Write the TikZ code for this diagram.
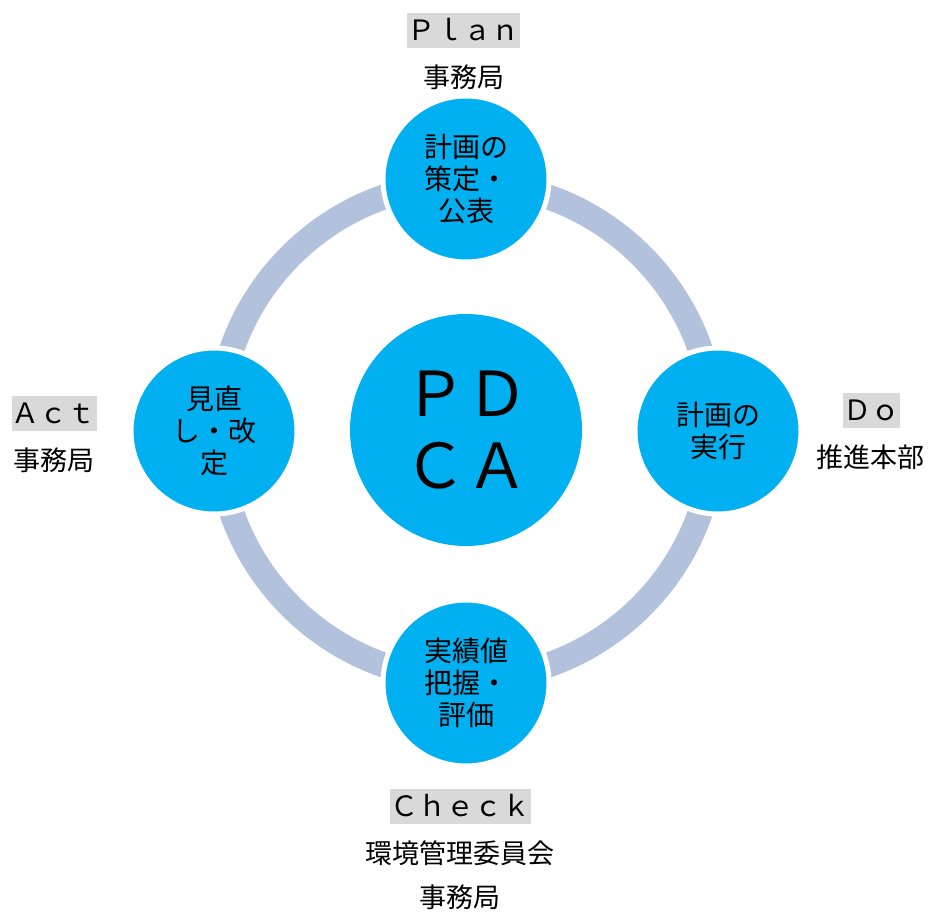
\documentclass[tikz,border=0pt]{standalone}
\usepackage{fontspec}
\newfontfamily\cjk{Noto Sans CJK JP}
\definecolor{cblue}{HTML}{00B0F0}
\definecolor{ringc}{HTML}{B3C2DC}
\definecolor{lblgray}{HTML}{D9D9D9}
\begin{document}
\begin{tikzpicture}[x=1pt,y=-1pt,
  small/.style={circle, fill=cblue, draw=white, line width=5pt, minimum size=166pt, inner sep=0pt, align=center, font=\cjk\fontsize{28}{32}\selectfont},
  tag/.style={fill=lblgray, inner xsep=0.5pt, inner ysep=0pt, minimum height=35pt, font=\cjk\fontsize{28}{34}\selectfont},
  who/.style={inner sep=0pt, align=center, font=\cjk\fontsize{27}{44}\selectfont}]
\useasboundingbox (0,0) rectangle (929,911);
\coordinate (c) at (466,431);
\draw[ringc, line width=25pt] (c) circle[radius=248];
\node[circle, fill=cblue, minimum size=232pt, inner sep=0pt, align=center, font=\cjk\fontsize{62}{72}\selectfont] (pdca) at (466,430) {ＰＤ\\ＣＡ};
\node[small] (plan) at (466,179) {計画の\\策定・\\公表};
\node[small] (do) at (718,431) {計画の\\実行};
\node[small] (check) at (466,683) {実績値\\把握・\\評価};
\node[small] (act) at (214,431) {見直\\し・改\\定};
\node[tag] (tplan) at (463.5,30) {Ｐｌａｎ};
\node[who] (wplan) at (464,77) {事務局};
\node[tag] (tdo) at (871,410) {Ｄｏ};
\node[who] (wdo) at (870,457) {推進本部};
\node[tag] (tcheck) at (460,806) {Ｃｈｅｃｋ};
\node[who] (wcheck1) at (460,853) {環境管理委員会};
\node[who] (wcheck2) at (460,897) {事務局};
\node[tag] (tact) at (54,413) {Ａｃｔ};
\node[who] (wact) at (54,460) {事務局};
\end{tikzpicture}
\end{document}
